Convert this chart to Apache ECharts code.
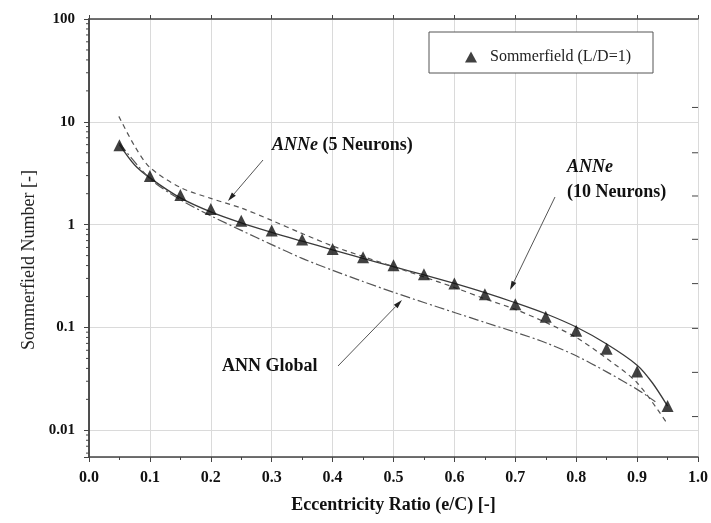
<!DOCTYPE html>
<html>
<head>
<meta charset="utf-8">
<script src="https://cdn.jsdelivr.net/npm/echarts@6/dist/echarts.min.js"></script>
<style>
  html, body { margin: 0; padding: 0; background: #fff; }
  #chart { width: 711px; height: 523px; }
</style>
</head>
<body>
<div id="chart"></div>
<script>
// measured points (triangles)
const eRatio = [0.05, 0.1, 0.15, 0.2, 0.25, 0.3, 0.35, 0.4, 0.45, 0.5, 0.55, 0.6, 0.65, 0.7, 0.75, 0.8, 0.85, 0.9, 0.95]
const sommerfeld = [5.93, 2.97, 1.94, 1.42, 1.09, 0.875, 0.716, 0.58, 0.483, 0.402, 0.329, 0.267, 0.211, 0.168, 0.127, 0.093, 0.062, 0.0374, 0.0172]

// ANNe, 10 neurons (solid)
const ann10X = [0.05, 0.075, 0.1, 0.15, 0.2, 0.25, 0.3, 0.35, 0.4, 0.45, 0.5, 0.55, 0.6, 0.65, 0.7, 0.75, 0.8, 0.85, 0.9, 0.925, 0.95]
const ann10Y = [6.0, 3.8, 2.85, 1.82, 1.33, 1.04, 0.84, 0.69, 0.57, 0.47, 0.39, 0.325, 0.268, 0.218, 0.174, 0.136, 0.101, 0.069, 0.043, 0.029, 0.0172]

// ANNe, 5 neurons (dashed)
const ann5X = [0.049, 0.075, 0.1, 0.15, 0.2, 0.25, 0.3, 0.35, 0.4, 0.45, 0.5, 0.55, 0.6, 0.65, 0.7, 0.75, 0.8, 0.85, 0.9, 0.95]
const ann5Y = [11.3, 5.8, 3.6, 2.3, 1.8, 1.45, 1.1, 0.82, 0.62, 0.49, 0.39, 0.31, 0.245, 0.19, 0.15, 0.112, 0.08, 0.05, 0.029, 0.0115]

// ANN global (dash-dot)
const annGX = [0.05, 0.1, 0.15, 0.2, 0.25, 0.3, 0.35, 0.4, 0.45, 0.5, 0.55, 0.6, 0.65, 0.7, 0.75, 0.8, 0.85, 0.9, 0.93]
const annGY = [6.2, 2.8, 1.75, 1.22, 0.88, 0.64, 0.47, 0.36, 0.28, 0.22, 0.175, 0.14, 0.112, 0.09, 0.071, 0.053, 0.037, 0.025, 0.019]

const yTickLabels = { '0.01': '0.01', '0.1': '0.1', '1': '1', '10': '10', '100': '100' }
const yMinorTicks = [0.006, 0.007, 0.008, 0.009, 0.02, 0.03, 0.04, 0.05, 0.06, 0.07, 0.08, 0.09,
  0.2, 0.3, 0.4, 0.5, 0.6, 0.7, 0.8, 0.9, 2, 3, 4, 5, 6, 7, 8, 9, 20, 30, 40, 50, 60, 70, 80, 90]
const yRightTicks = [13.8, 5.0, 1.9, 0.72, 0.267, 0.098, 0.0366, 0.0136]

const font = 'Liberation Serif, Times New Roman, serif'
const axisColor = '#444'
const lineColor = '#3a3a3a'

const pairs = (xs, ys) => xs.map((x, i) => [x, ys[i]])

function arrow(x1, y1, x2, y2) {
  const a = Math.atan2(y2 - y1, x2 - x1)
  const len = 9
  const w = 2.6
  const bx = x2 - len * Math.cos(a)
  const by = y2 - len * Math.sin(a)
  const nx = -Math.sin(a) * w
  const ny = Math.cos(a) * w
  return [
    { type: 'line', z: 10, shape: { x1, y1, x2: bx, y2: by }, style: { stroke: '#555', lineWidth: 1 } },
    { type: 'polygon', z: 10, shape: { points: [[x2, y2], [bx + nx, by + ny], [bx - nx, by - ny]] }, style: { fill: '#222' } }
  ]
}

const annoStyle = { font: 'bold 18px ' + font, fill: '#111' }
const richItalic = { i: { fontStyle: 'italic', fontWeight: 'bold', fontSize: 18, fontFamily: font, fill: '#111' } }

const chart = echarts.init(document.getElementById('chart'))
chart.setOption({
  animation: false,
  backgroundColor: '#fff',
  grid: { left: 89, right: 11, top: 19, bottom: 66 },
  legend: {
    data: ['Sommerfield (L/D=1)'],
    left: 460,
    top: 44,
    itemWidth: 12,
    itemHeight: 11,
    textStyle: { fontFamily: font, fontSize: 16, color: '#222', padding: [0, 0, 0, 8] }
  },
  xAxis: [{
    type: 'value',
    min: 0,
    max: 1,
    interval: 0.1,
    position: 'bottom',
    name: 'Eccentricity Ratio (e/C) [-]',
    nameLocation: 'middle',
    nameGap: 39,
    nameTextStyle: { fontFamily: font, fontSize: 18, fontWeight: 'bold', color: '#111' },
    axisLine: { lineStyle: { color: axisColor, width: 1.5 } },
    axisTick: { length: 5, lineStyle: { color: axisColor } },
    minorTick: { show: true, splitNumber: 2, length: 3, lineStyle: { color: axisColor } },
    axisLabel: { margin: 13, fontFamily: font, fontSize: 16, fontWeight: 'bold', color: '#111', formatter: v => v.toFixed(1) },
    splitLine: { show: true, lineStyle: { color: '#dadada' } }
  }, {
    type: 'value',
    min: 0,
    max: 1,
    interval: 0.1,
    position: 'top',
    axisLine: { lineStyle: { color: axisColor, width: 1.5 } },
    axisTick: { length: 4, lineStyle: { color: axisColor } },
    axisLabel: { show: false },
    splitLine: { show: false }
  }],
  yAxis: [{
    type: 'log',
    min: 0.0055,
    max: 100,
    position: 'left',
    name: 'Sommerfield Number [-]',
    nameLocation: 'middle',
    nameRotate: 90,
    nameGap: 51,
    nameTextStyle: { fontFamily: font, fontSize: 18, color: '#222', padding: [0, 44, 0, 0] },
    axisLine: { show: true, lineStyle: { color: axisColor, width: 1.5 } },
    axisTick: { length: 5, lineStyle: { color: axisColor } },
    axisLabel: {
      margin: 14, fontFamily: font, fontSize: 15, fontWeight: 'bold', color: '#111',
      formatter: v => {
        const l = Math.log10(v)
        if (Math.abs(l - Math.round(l)) > 1e-6) return ''
        return yTickLabels[String(Math.pow(10, Math.round(l)).toFixed(Math.max(0, -Math.round(l))) * 1)] || ''
      }
    },
    splitLine: { show: true, lineStyle: { color: '#dadada' } }
  }, {
    type: 'log',
    min: 0.0055,
    max: 100,
    position: 'right',
    axisLine: { show: true, lineStyle: { color: axisColor, width: 1.5 } },
    axisTick: { show: false },
    axisLabel: { show: false },
    splitLine: { show: false }
  }],
  series: [
    {
      name: 'ANNe (10 Neurons)',
      type: 'line',
      data: pairs(ann10X, ann10Y),
      smooth: 0.3,
      showSymbol: false,
      lineStyle: { color: lineColor, width: 1.3 },
      z: 3
    },
    {
      name: 'ANNe (5 Neurons)',
      type: 'line',
      data: pairs(ann5X, ann5Y),
      smooth: 0.3,
      showSymbol: false,
      lineStyle: { color: '#555', width: 1.2, type: [5, 4] },
      z: 3
    },
    {
      name: 'ANN Global',
      type: 'line',
      data: pairs(annGX, annGY),
      smooth: 0.3,
      showSymbol: false,
      lineStyle: { color: '#555', width: 1.2, type: [10, 3, 2, 3] },
      z: 3
    },
    {
      name: 'Sommerfield (L/D=1)',
      type: 'scatter',
      data: pairs(eRatio, sommerfeld),
      symbol: 'triangle',
      symbolSize: 12,
      itemStyle: { color: '#111' },
      z: 5
    },
    {
      type: 'custom',
      silent: true,
      data: yMinorTicks.map(v => [0, v]),
      renderItem: (params, api) => {
        const p = api.coord([0, api.value(1)])
        const x0 = params.coordSys.x
        return { type: 'line', shape: { x1: x0 - 3, y1: p[1], x2: x0, y2: p[1] }, style: { stroke: axisColor, lineWidth: 1 } }
      }
    },
    {
      type: 'custom',
      silent: true,
      data: yRightTicks.map(v => [1, v]),
      renderItem: (params, api) => {
        const p = api.coord([1, api.value(1)])
        const x0 = params.coordSys.x + params.coordSys.width
        return { type: 'line', shape: { x1: x0 - 6, y1: p[1], x2: x0, y2: p[1] }, style: { stroke: axisColor, lineWidth: 1 } }
      }
    }
  ],
  graphic: [
    { type: 'rect', z: 1, shape: { x: 429, y: 32, width: 224, height: 41 }, style: { fill: '#fff', stroke: '#555', lineWidth: 1 } },
    { type: 'text', z: 10, left: 272, top: 136, style: { text: '{i|ANNe} (5 Neurons)', rich: richItalic, ...annoStyle } },
    { type: 'text', z: 10, left: 567, top: 158, style: { text: '{i|ANNe}', rich: richItalic, ...annoStyle } },
    { type: 'text', z: 10, left: 567, top: 183, style: { text: '(10 Neurons)', ...annoStyle } },
    { type: 'text', z: 10, left: 222, top: 357, style: { text: 'ANN Global', ...annoStyle } },
    ...arrow(263, 160, 228, 201),
    ...arrow(555, 197, 510, 290),
    ...arrow(338, 366, 402, 300)
  ]
})
</script>
</body>
</html>
